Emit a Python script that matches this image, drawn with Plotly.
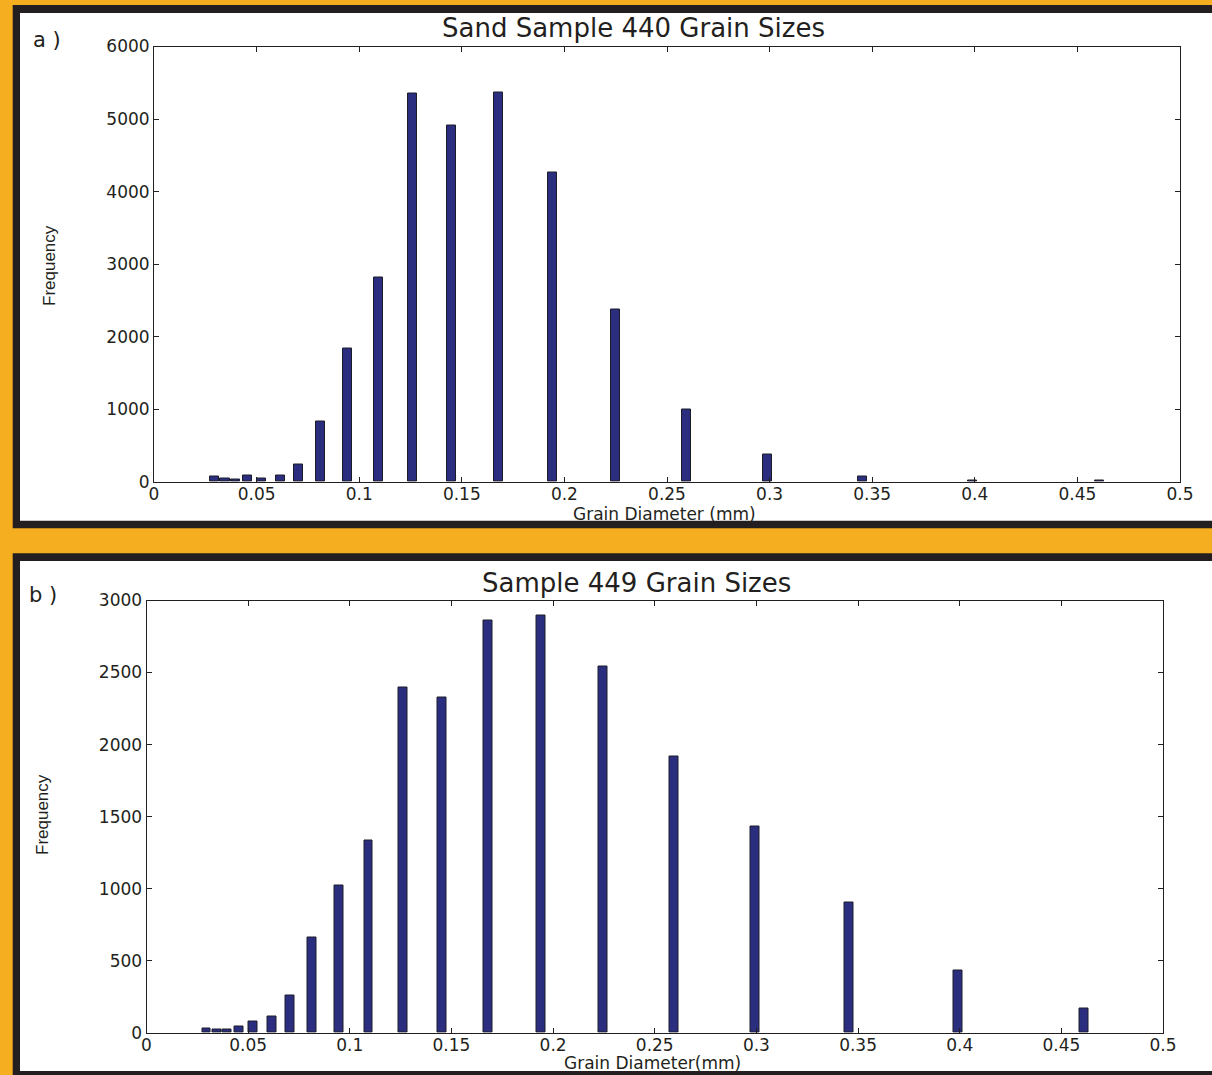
import plotly.graph_objects as go
from plotly.subplots import make_subplots

W, H = 1212, 1075

# Bin centres (mm) shared by both samples
diameters = [0.0295, 0.0346, 0.0395, 0.0456, 0.0525, 0.0618, 0.0704, 0.0812,
             0.0945, 0.1092, 0.1262, 0.1452, 0.1681, 0.1940, 0.2247, 0.2593,
             0.2992, 0.3455, 0.3991, 0.4610]

freq_440 = [70, 50, 30, 90, 50, 90, 240, 830,
            1830, 2820, 5350, 4910, 5370, 4260, 2370, 990,
            380, 70, 20, 15]

freq_449 = [30, 20, 20, 45, 80, 115, 255, 660,
            1020, 1335, 2395, 2330, 2860, 2895, 2545, 1920,
            1430, 905, 435, 165]

x_ticks = [0, 0.05, 0.1, 0.15, 0.2, 0.25, 0.3, 0.35, 0.4, 0.45, 0.5]
x_tick_text = ["0", "0.05", "0.1", "0.15", "0.2", "0.25", "0.3", "0.35", "0.4", "0.45", "0.5"]

ORANGE = "#F5AE1F"
BLACK = "#231F20"
BAR = "#2B2E7E"
FONT = "DejaVu Sans"


def px(xp):
    return xp / W


def py(yp):
    return 1 - yp / H


fig = make_subplots(rows=2, cols=1)

fig.add_trace(go.Bar(x=diameters, y=freq_440, width=0.0044,
                     marker=dict(color=BAR, line=dict(color="#1c1c28", width=1))),
              row=1, col=1)
fig.add_trace(go.Bar(x=diameters, y=freq_449, width=0.0044,
                     marker=dict(color=BAR, line=dict(color="#1c1c28", width=1))),
              row=2, col=1)

axis_common = dict(showline=True, linecolor=BLACK, linewidth=1, mirror="ticks",
                   ticks="inside", ticklen=5, tickcolor=BLACK, showgrid=False,
                   zeroline=False, automargin=False,
                   tickfont=dict(family=FONT, size=17, color=BLACK))

fig.update_xaxes(range=[0, 0.5], tickvals=x_ticks, ticktext=x_tick_text,
                 ticklabelstandoff=-3, **axis_common)
fig.update_yaxes(**axis_common)
fig.update_yaxes(range=[0, 6000], dtick=1000, row=1, col=1)
fig.update_yaxes(range=[0, 3000], dtick=500, row=2, col=1)

fig.update_layout(
    width=W, height=H, autosize=False,
    margin=dict(l=0, r=0, t=0, b=0, pad=0, autoexpand=False),
    paper_bgcolor=ORANGE,
    plot_bgcolor="white",
    showlegend=False,
    bargap=0,
    xaxis=dict(domain=[px(154), px(1180)], anchor="y"),
    yaxis=dict(domain=[py(481.7), py(46.5)], anchor="x"),
    xaxis2=dict(domain=[px(146.5), px(1163)], anchor="y2"),
    yaxis2=dict(domain=[py(1032.7), py(600.5)], anchor="x2"),
)

# Panel frames (black border, white fill)
shapes = [
    dict(type="rect", xref="paper", yref="paper", x0=px(12.7), x1=1, y0=py(528.3), y1=py(5),
         fillcolor=BLACK, line=dict(width=0), layer="below"),
    dict(type="rect", xref="paper", yref="paper", x0=px(20), x1=1, y0=py(520.7), y1=py(13),
         fillcolor="white", line=dict(width=0), layer="below"),
    dict(type="rect", xref="paper", yref="paper", x0=px(12.7), x1=1, y0=0, y1=py(553.3),
         fillcolor=BLACK, line=dict(width=0), layer="below"),
    dict(type="rect", xref="paper", yref="paper", x0=px(20), x1=1, y0=py(1071), y1=py(561),
         fillcolor="white", line=dict(width=0), layer="below"),
]
fig.update_layout(shapes=shapes)

ann = []


def text(x, y, s, size, angle=0, family=FONT):
    ann.append(dict(x=px(x), y=py(y), xref="paper", yref="paper", text=s, showarrow=False,
                    xanchor="center", yanchor="middle", textangle=angle,
                    font=dict(family=family, size=size, color=BLACK)))


text(634, 28, "Sand Sample 440 Grain Sizes", 26)
text(637, 583, "Sample 449 Grain Sizes", 26)
text(664, 514, "Grain Diameter (mm)", 17)
text(652, 1063, "Grain Diameter(mm)", 17)
text(47, 40, "a )", 21)
text(43, 595, "b )", 21)
text(49, 265, "Frequency", 17, angle=-90, family="Liberation Sans")
text(42, 815, "Frequency", 17, angle=-90, family="Liberation Sans")
fig.update_layout(annotations=ann)

fig.write_html(
    "out.html",
    config={"displayModeBar": False},
    post_script="document.body.style.margin='0';document.body.style.padding='0';"
                "document.body.style.overflow='hidden';"
                "document.documentElement.style.overflow='hidden';",
)
